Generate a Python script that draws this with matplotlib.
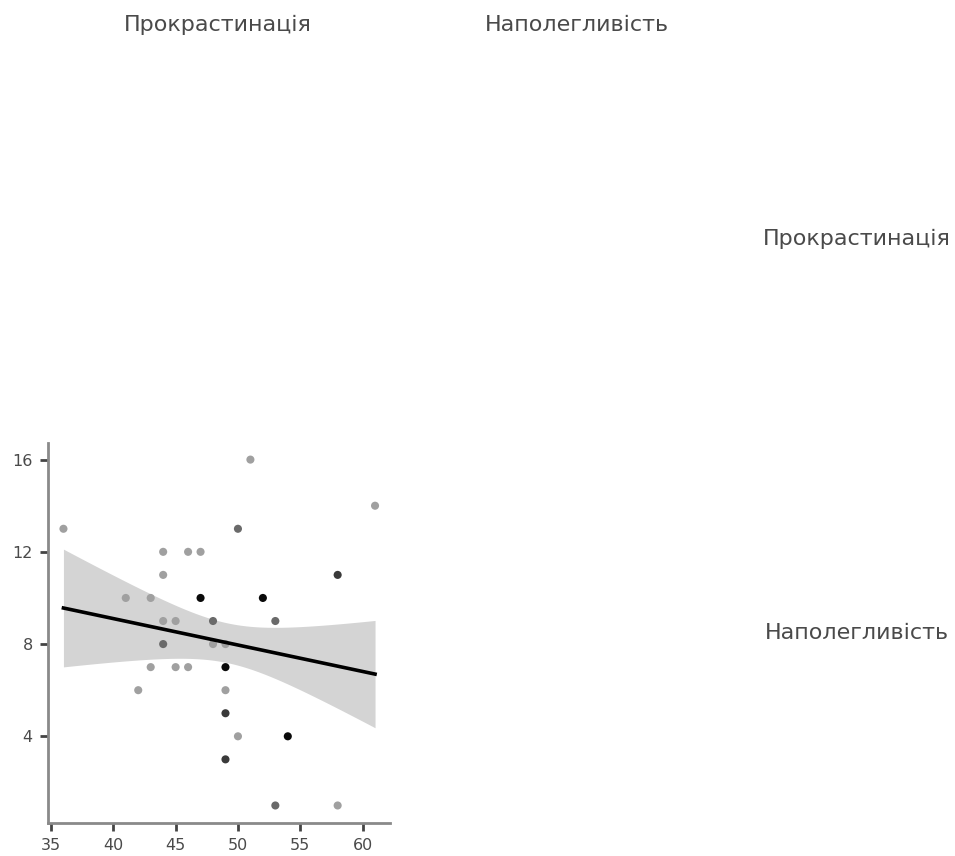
import numpy as np
import matplotlib
matplotlib.use("Agg")
import matplotlib.pyplot as plt

plt.rcParams['font.family'] = ['DejaVu Sans']

## variable names
var_names = ["Прокрастинація", "Наполегливість"]

## scatter data: x = Прокрастинація, y = Наполегливість, n = number of overlapping cases
px = [36, 51, 61, 50, 44, 46, 47, 44, 58, 41, 43, 47, 52, 44, 45, 48, 53,
      44, 48, 49, 43, 45, 46, 49, 42, 49, 49, 50, 54, 49, 53, 58]
py = [13, 16, 14, 13, 12, 12, 12, 11, 11, 10, 10, 10, 10, 9, 9, 9, 9,
      8, 8, 8, 7, 7, 7, 7, 6, 6, 5, 4, 4, 3, 1, 1]
pn = [1, 1, 1, 2, 1, 1, 1, 1, 3, 1, 1, 4, 4, 1, 1, 2, 2,
      2, 1, 1, 1, 1, 1, 4, 1, 1, 3, 1, 4, 3, 2, 1]

x_ticks = [35, 40, 45, 50, 55, 60]
y_ticks = [4, 8, 12, 16]

## expand overlapping cases
xs = np.repeat(np.array(px, dtype=float), pn)
ys = np.repeat(np.array(py, dtype=float), pn)

fig = plt.figure(figsize=(9.55, 8.56), dpi=100)

## titles of the matrix
lab = dict(ha="center", va="center", fontsize=16, color="#4a4a4a")
fig.text(218/955, 1-25/856, var_names[0], **lab)
fig.text(577/955, 1-25/856, var_names[1], **lab)
fig.text(857/955, 1-239/856, var_names[0], **lab)
fig.text(857/955, 1-633/856, var_names[1], **lab)

ax = fig.add_axes([48/955, 33/856, 342/955, 380/856])

## regression with confidence band
slope, icpt = np.polyfit(xs, ys, 1)
xl = np.linspace(xs.min(), xs.max(), 100)
yl = icpt + slope*xl
n = len(xs)
resid = ys - (icpt + slope*xs)
s = np.sqrt(np.sum(resid**2)/(n-2))
sxx = np.sum((xs - xs.mean())**2)
tval = 1.85
se = s*np.sqrt(1.0/n + (xl - xs.mean())**2/sxx)
ax.fill_between(xl, yl - tval*se, yl + tval*se, color="#d4d4d4", lw=0, zorder=1)

## points, darker when cases overlap
for x_, y_, k in zip(px, py, pn):
    g = {1: "#a0a0a0", 2: "#6a6a6a", 3: "#3a3a3a", 4: "#0a0a0a"}[k]
    ax.scatter(x_, y_, s=34, color=g, edgecolors="none", zorder=2)

ax.plot(xl, yl, color="black", lw=2.6, zorder=3)

ax.set_xlim(34.76, 62.2)
ax.set_ylim(0.24, 16.72)
ax.set_xticks(x_ticks)
ax.set_yticks(y_ticks)
for sp in ["top", "right"]:
    ax.spines[sp].set_visible(False)
for sp in ["left", "bottom"]:
    ax.spines[sp].set_color("#8a8a8a")
    ax.spines[sp].set_linewidth(2)
ax.tick_params(colors="#444444", labelcolor="#4a4a4a", labelsize=11.5, length=6, width=2, pad=5)

fig.savefig("out.png", dpi=100)
